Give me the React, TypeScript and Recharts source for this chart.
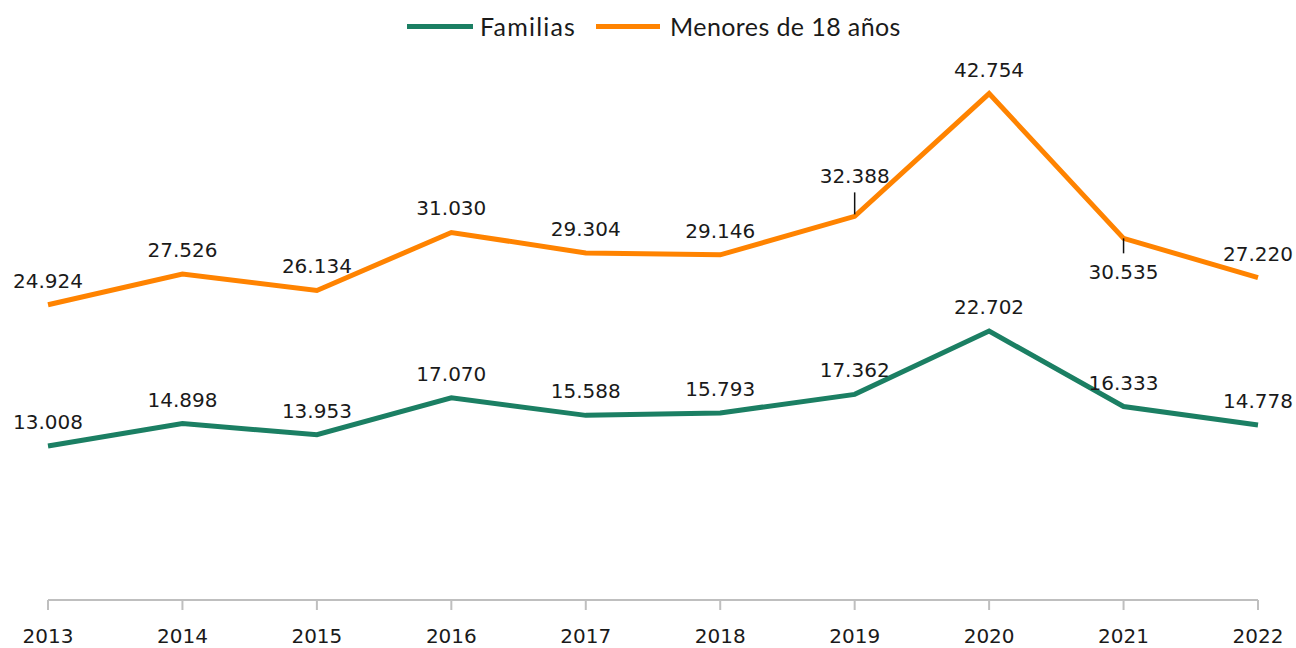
import { LineChart, Line, XAxis, YAxis, LabelList } from "recharts";

const years = ["2013", "2014", "2015", "2016", "2017", "2018", "2019", "2020", "2021", "2022"];
const familias = [13008, 14898, 13953, 17070, 15588, 15793, 17362, 22702, 16333, 14778];
const menores = [24924, 27526, 26134, 31030, 29304, 29146, 32388, 42754, 30535, 27220];

const GREEN = "#1B7F63";
const ORANGE = "#FF8300";
const TEXT = "#1a1a1a";
const FONT = "'DejaVu Sans', Verdana, sans-serif";

const data = years.map((y, i) => ({ year: y, familias: familias[i], menores: menores[i] }));

const fmt = (v: number) => v.toLocaleString("de-DE");

// label above the point, except a few that need a leader line
function makeLabel(series: "familias" | "menores") {
  return (props: any) => {
    const { x, y, value, index } = props;
    const txt = (ty: number) => (
      <text x={x} y={ty} textAnchor="middle" fill={TEXT} fontSize={20} fontFamily={FONT}>
        {fmt(value)}
      </text>
    );
    if (series === "menores" && index === 6) {
      return (
        <g>
          <line x1={x} x2={x} y1={y - 24} y2={y - 2} stroke="#111" strokeWidth={1.5} />
          {txt(y - 33)}
        </g>
      );
    }
    if (series === "menores" && index === 8) {
      return (
        <g>
          <line x1={x} x2={x} y1={y} y2={y + 15} stroke="#111" strokeWidth={1.5} />
          {txt(y + 41)}
        </g>
      );
    }
    return txt(y - 17);
  };
}

function LegendBox() {
  const item = (color: string, label: string, lineW: number, gap: number, spacing: number, after: number) => (
    <div style={{ display: "flex", alignItems: "center", marginRight: after }}>
      <div style={{ width: lineW, height: 5, background: color, marginRight: gap }} />
      <span style={{ letterSpacing: spacing }}>{label}</span>
    </div>
  );
  return (
    <div
      style={{
        position: "absolute",
        top: 11,
        left: 407,
        display: "flex",
        fontFamily: "Lato, sans-serif",
        fontSize: 25,
        color: TEXT,
        lineHeight: "30px",
        whiteSpace: "nowrap",
      }}
    >
      {item(GREEN, "Familias", 66, 7, 1.2, 20)}
      {item(ORANGE, "Menores de 18 años", 64, 10, 0.4, 0)}
    </div>
  );
}

export default function App() {
  return (
    <div style={{ position: "absolute", left: 0, top: 0, width: 1296, height: 648, background: "#fff" }}>
      <LineChart width={1296} height={648} data={data} margin={{ top: 67, right: 38, bottom: 8, left: 48 }}>
        <XAxis
          dataKey="year"
          height={40}
          padding={{ left: 0, right: 0 }}
          stroke="#BFBFBF"
          strokeWidth={2}
          tickSize={10}
          tickMargin={19}
          interval={0}
          tick={{ fill: TEXT, fontSize: 20, fontFamily: FONT }}
        />
        <YAxis hide domain={[0, 45000]} width={0} />
        <Line
          dataKey="familias"
          stroke={GREEN}
          strokeWidth={5}
          dot={false}
          isAnimationActive={false}
        >
          <LabelList dataKey="familias" content={makeLabel("familias")} />
        </Line>
        <Line
          dataKey="menores"
          stroke={ORANGE}
          strokeWidth={5}
          dot={false}
          isAnimationActive={false}
        >
          <LabelList dataKey="menores" content={makeLabel("menores")} />
        </Line>
      </LineChart>
      <LegendBox />
    </div>
  );
}
